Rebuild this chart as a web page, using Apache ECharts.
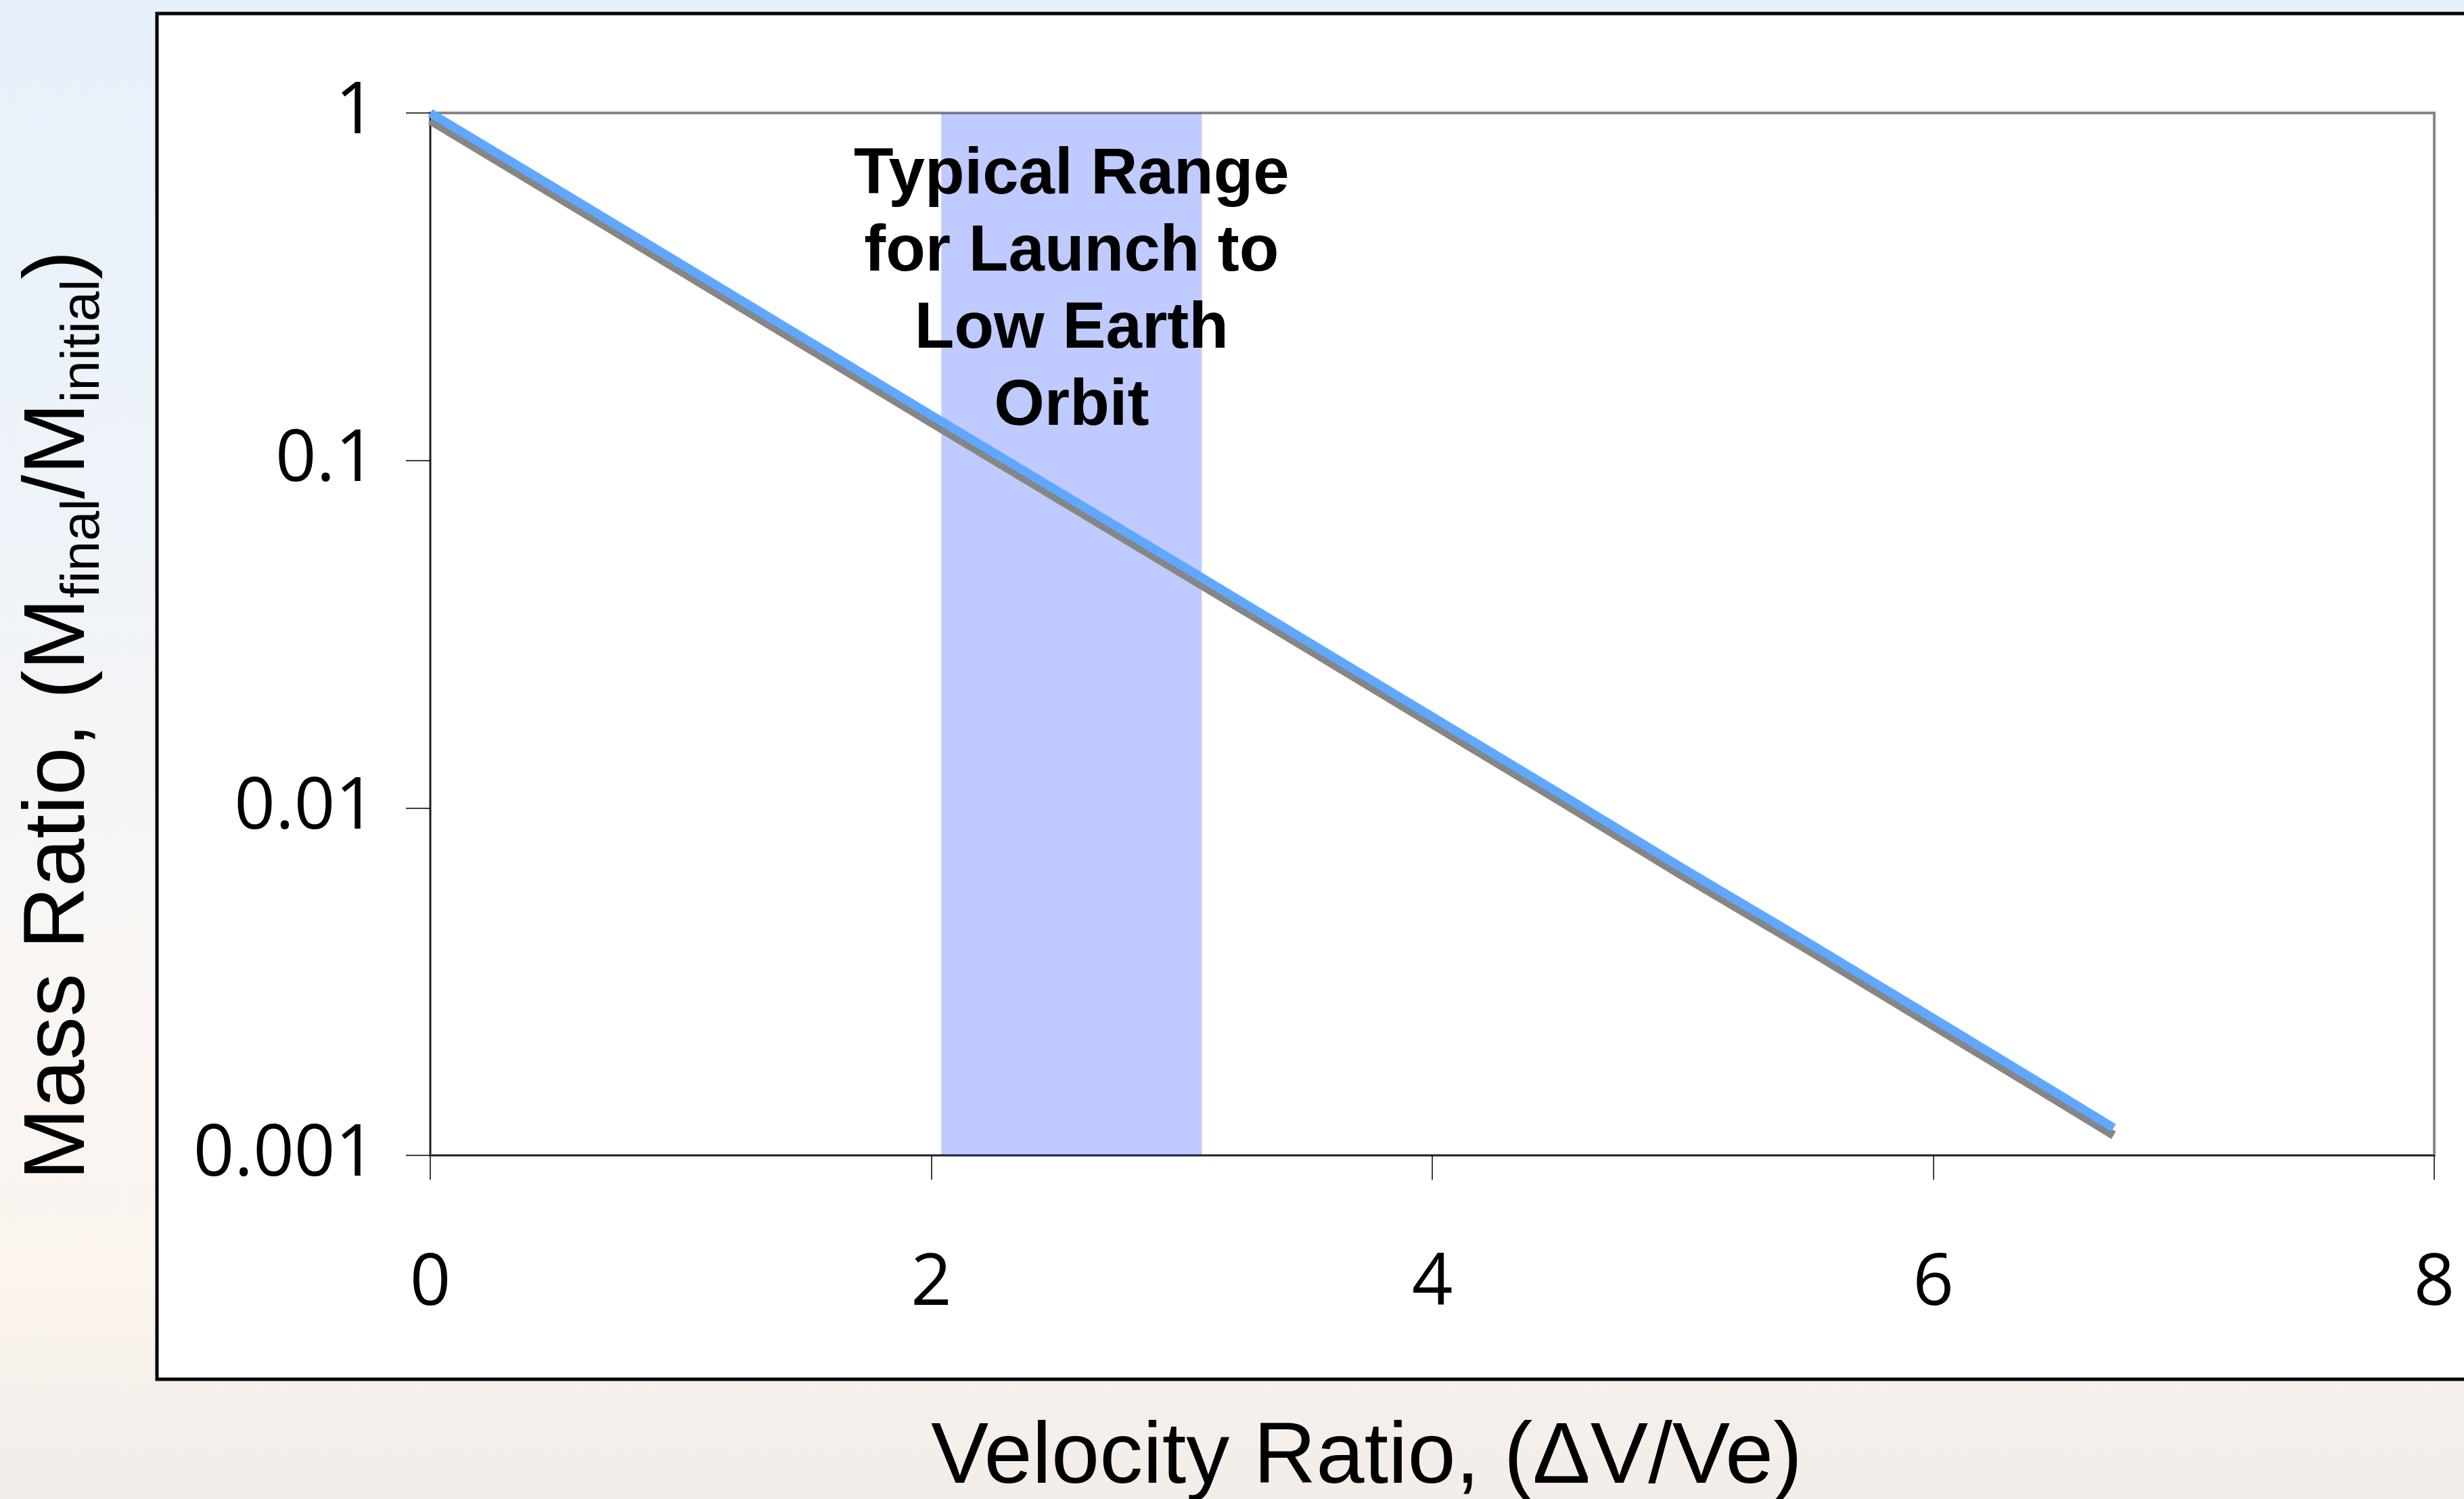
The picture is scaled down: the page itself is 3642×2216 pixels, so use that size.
<!DOCTYPE html>
<html>
<head>
<meta charset="utf-8">
<script src="https://cdn.jsdelivr.net/npm/echarts@6/dist/echarts.min.js"></script>
<style>
  html, body { margin: 0; padding: 0; }
  #chart { width: 3642px; height: 2216px; }
</style>
</head>
<body>
<div id="chart"></div>
<script>
// ---- data ----
var velocityRatio = [0, 0.5, 1, 1.5, 2, 2.5, 3, 3.5, 4, 4.5, 5, 5.5, 6, 6.5, 6.72];
var massRatio     = [1, 0.607, 0.368, 0.223, 0.135, 0.082, 0.0498, 0.0302, 0.0183, 0.0111, 0.0067, 0.0041, 0.00248, 0.0015, 0.0012];
var bandRange     = [2.04, 3.08];
var bandText      = ['Typical Range', 'for Launch to', 'Low Earth', 'Orbit'];
var xTicks        = [0, 2, 4, 6, 8];
var yTickLabels   = ['0.001', '0.01', '0.1', '1'];
var xTitle        = 'Velocity Ratio, (\u0394V/Ve)';

var seriesData = velocityRatio.map(function (v, i) { return [v, massRatio[i]]; });

var chart = echarts.init(document.getElementById('chart'), null, { renderer: 'canvas' });

var option = {
  animation: false,
  graphic: [
    {
      type: 'rect', z: -20, silent: true,
      shape: { x: 0, y: 0, width: 3642, height: 2216 },
      style: {
        fill: {
          type: 'linear', x: 0, y: 0, x2: 0, y2: 1,
          colorStops: [
            { offset: 0, color: '#e8f0f9' },
            { offset: 0.35, color: '#eef3f9' },
            { offset: 0.6, color: '#f8f6f4' },
            { offset: 0.85, color: '#fbf4ef' },
            { offset: 1, color: '#f2ede9' }
          ]
        }
      }
    },
    {
      type: 'rect', z: -10, silent: true,
      shape: { x: 232, y: 20, width: 3600, height: 2019 },
      style: { fill: '#ffffff', stroke: '#000000', lineWidth: 5 }
    }
  ],
  grid: {
    left: 636, top: 167, width: 2962, height: 1541,
    containLabel: false,
    outerBoundsMode: 'none',
    show: true, borderColor: '#888888', borderWidth: 4, backgroundColor: 'transparent'
  },
  xAxis: {
    type: 'value', min: 0, max: 8, interval: 2,
    name: xTitle,
    nameLocation: 'middle',
    nameGap: 374,
    nameTextStyle: {
      fontFamily: 'Liberation Sans, Arial, sans-serif', fontSize: 128, color: '#000',
      lineHeight: 150, padding: [0, 194, 0, 0]
    },
    axisLine: { show: true, lineStyle: { color: '#000', width: 1.5 } },
    axisTick: { show: true, inside: false, length: 36, lineStyle: { color: '#000', width: 1.5 } },
    axisLabel: {
      margin: 137, fontFamily: 'Open Sans, sans-serif', fontSize: 106, color: '#000', lineHeight: 108,
      formatter: function (v) { return xTicks.indexOf(v) >= 0 ? String(v) : ''; }
    },
    splitLine: { show: false }
  },
  yAxis: {
    type: 'log', logBase: 10, min: 0.001, max: 1,
    name: '{m|Mass Ratio, (M}{s|final}{m|/M}{s|initial}{m|)}',
    nameLocation: 'middle',
    nameRotate: 90,
    nameGap: 472,
    nameTextStyle: {
      fontFamily: 'Liberation Sans, Arial, sans-serif', fontSize: 127, color: '#000',
      padding: [0, 240, 0, 0],
      rich: {
        m: { fontFamily: 'Liberation Sans, Arial, sans-serif', fontSize: 128, color: '#000', lineHeight: 150, verticalAlign: 'middle' },
        s: { fontFamily: 'Liberation Sans, Arial, sans-serif', fontSize: 80, color: '#000', lineHeight: 72, verticalAlign: 'bottom' }
      }
    },
    axisLine: { show: true, lineStyle: { color: '#000', width: 1.5 } },
    axisTick: { show: true, inside: false, length: 36, lineStyle: { color: '#000', width: 1.5 } },
    axisLabel: {
      margin: 80, fontFamily: 'Open Sans, sans-serif', fontSize: 106, color: '#000',
      padding: [14, 0, 0, 0],
      formatter: function (v) {
        var idx = Math.round(Math.log10(v)) + 3;
        return yTickLabels[idx] !== undefined ? yTickLabels[idx] : '';
      }
    },
    splitLine: { show: false }
  },
  series: [
    {
      type: 'line',
      z: 3,
      data: seriesData,
      showSymbol: false,
      symbol: 'none',
      lineStyle: {
        color: '#60a8ff', width: 13, cap: 'butt', join: 'miter',
        shadowColor: '#868686', shadowBlur: 0, shadowOffsetX: 0, shadowOffsetY: 11
      }
    },
    {
      type: 'line',
      z: 6,
      data: [],
      markArea: {
        silent: true,
        itemStyle: { color: 'rgba(0, 44, 255, 0.25)', borderWidth: 0 },
        label: {
          show: true,
          position: 'insideTop',
          distance: 36,
          formatter: bandText.join('\n'),
          fontFamily: 'Liberation Sans, Arial, sans-serif',
          fontWeight: 'bold',
          fontSize: 96,
          lineHeight: 114,
          color: '#000',
          align: 'center'
        },
        data: [[{ xAxis: bandRange[0], yAxis: 1 }, { xAxis: bandRange[1], yAxis: 0.001 }]]
      }
    }
  ]
};

chart.setOption(option);
</script>
</body>
</html>
